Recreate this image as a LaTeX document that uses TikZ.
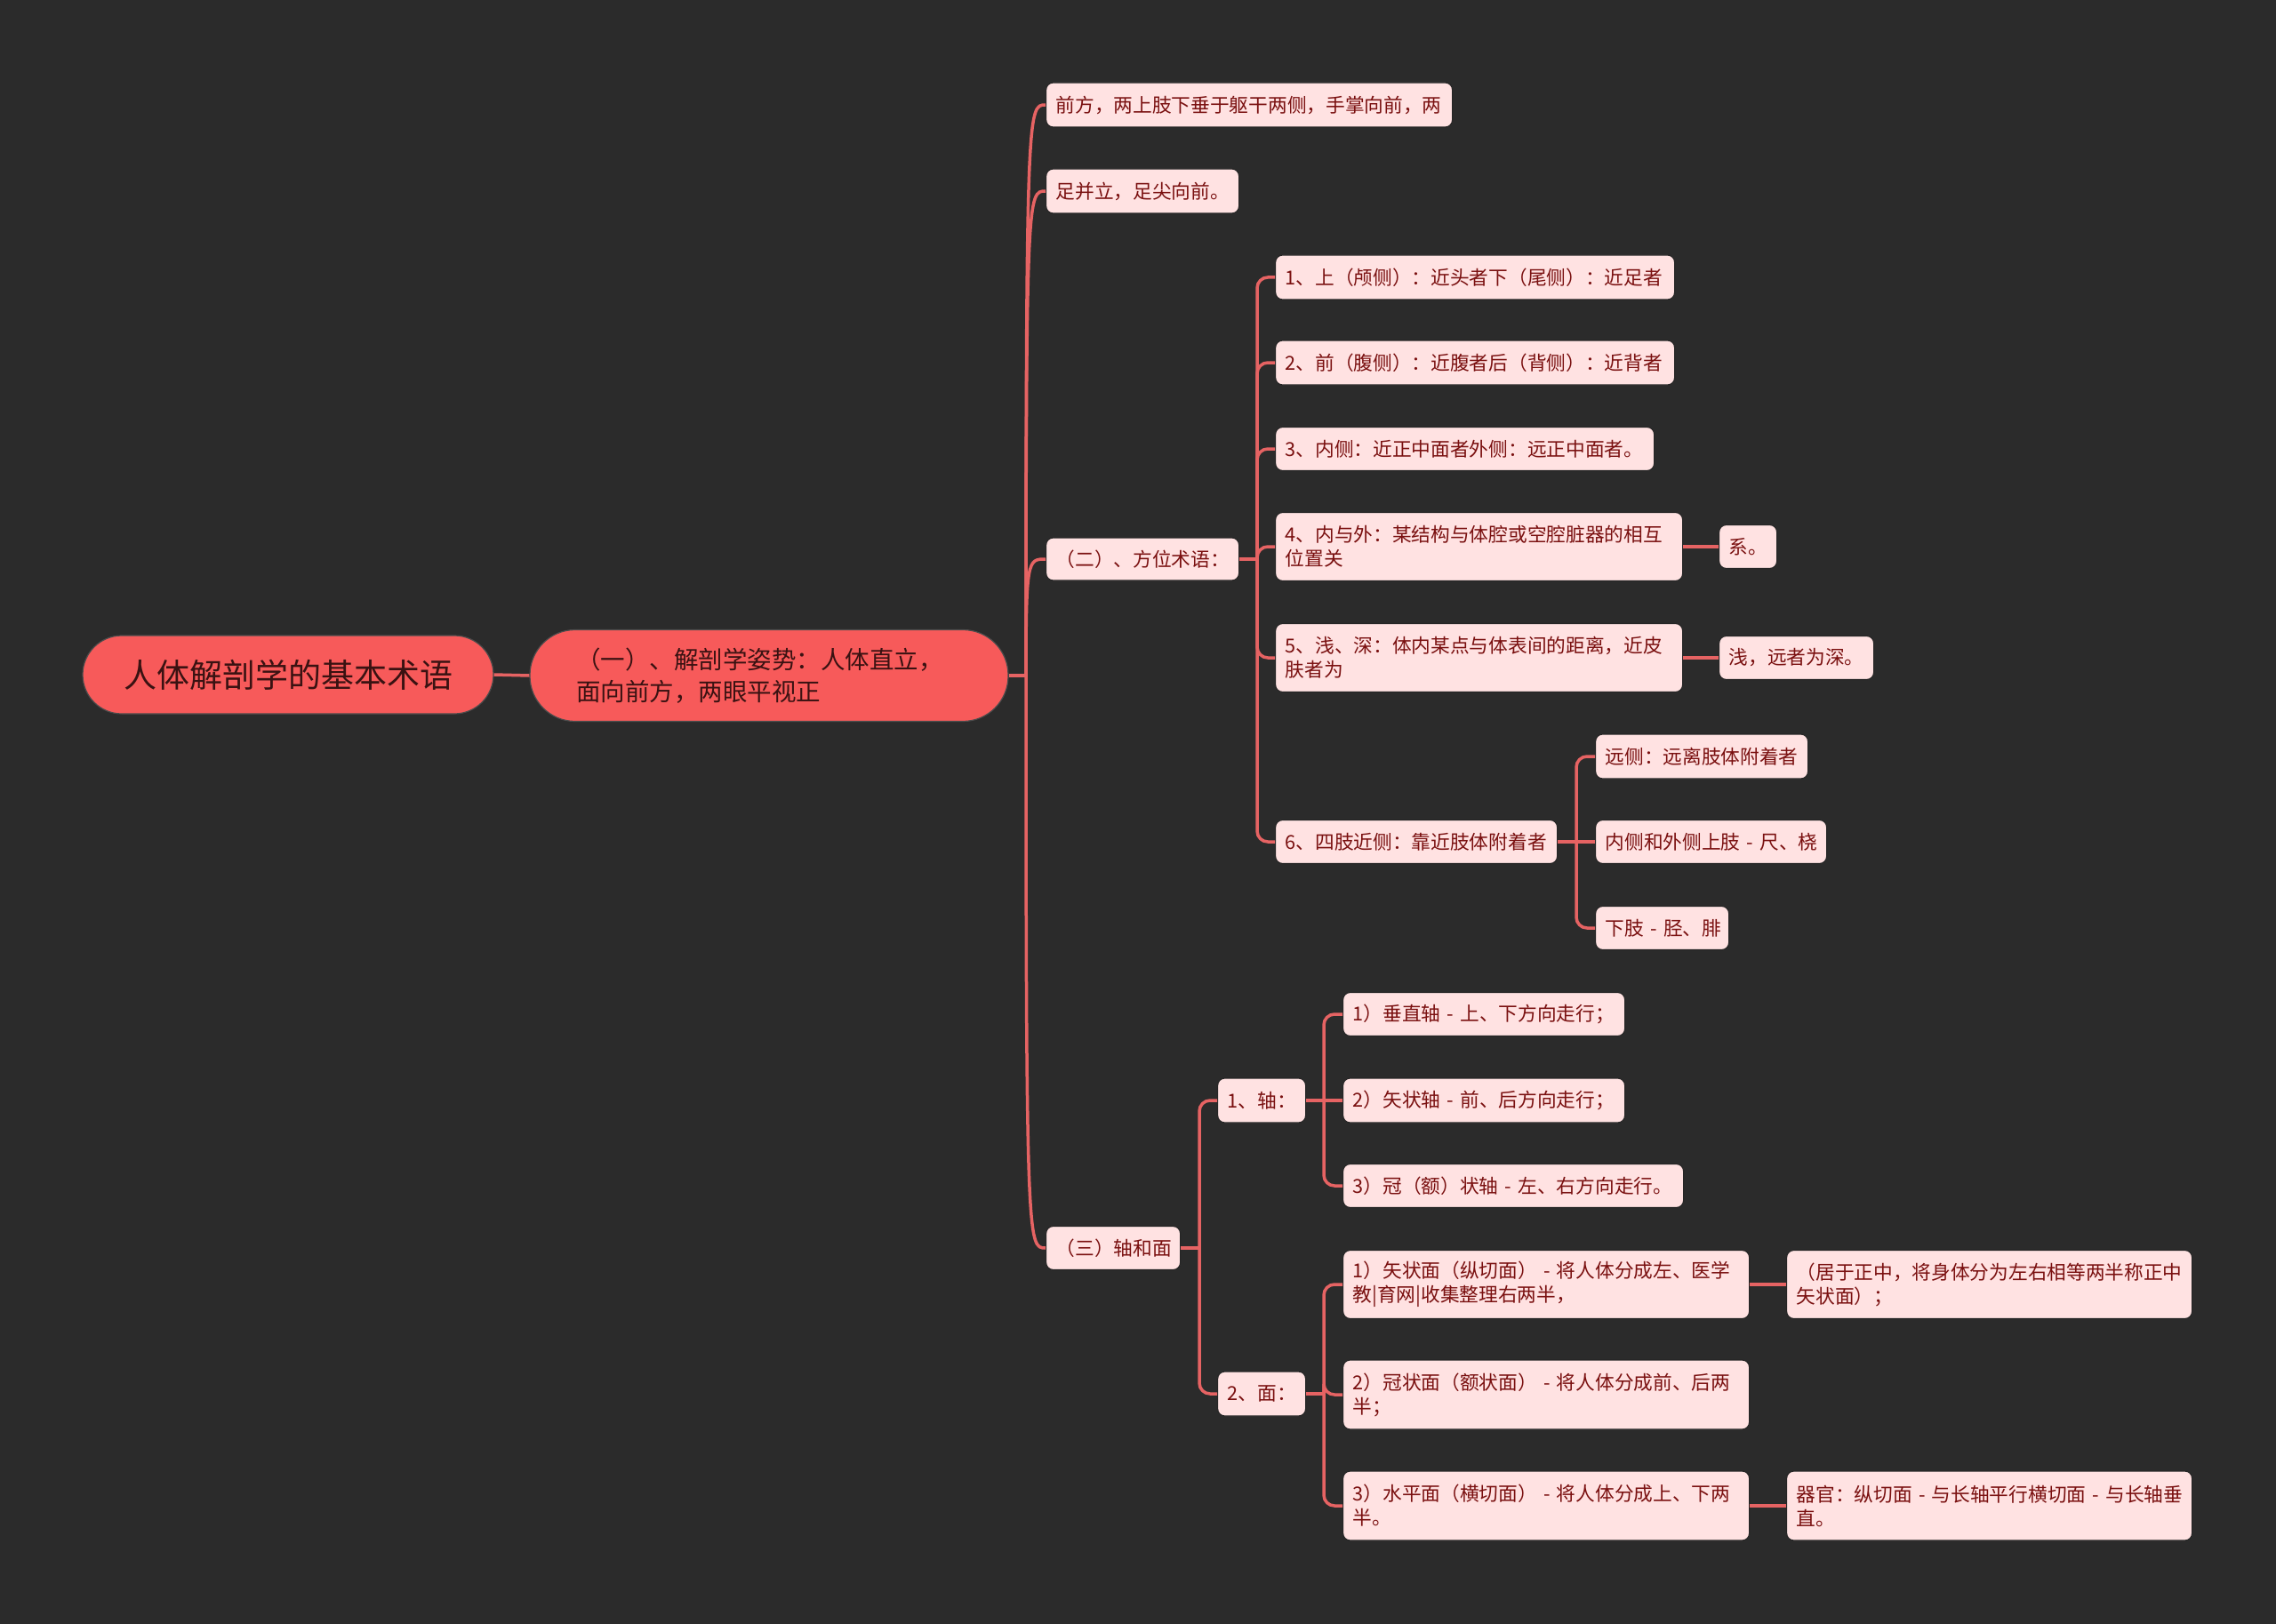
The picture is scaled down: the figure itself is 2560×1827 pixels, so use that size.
\documentclass[tikz,border=0pt]{standalone}
\usepackage{fontspec}
\setmainfont{Noto Sans CJK SC}
\definecolor{bgc}{HTML}{2B2B2B}
\definecolor{linec}{HTML}{E66363}
\definecolor{pillc}{HTML}{F75A5A}
\definecolor{leafc}{HTML}{FFE2E2}
\definecolor{leaftext}{HTML}{7A1010}
\definecolor{pilltext}{HTML}{3A1212}
\begin{document}
\begin{tikzpicture}[x=1pt,y=-1pt,
  leafbox/.style={draw=black!85, line width=1.2pt, fill=leafc, text=leaftext,
    rounded corners=8pt, anchor=west, inner xsep=11pt, inner ysep=0pt,
    align=left, font=\fontsize{21.7pt}{27pt}\selectfont, minimum height=50pt},
  pillbox/.style={draw=black!70, line width=1.2pt, fill=pillc, text=pilltext, inner sep=0pt},
  conn/.style={draw=linec, line width=3.5pt, rounded corners=12pt},
  curv/.style={draw=linec, line width=3.5pt},
]
\fill[bgc] (0,0) rectangle (2560,1827);
\useasboundingbox (0,0) rectangle (2560,1827);

% main nodes
\node[pillbox, minimum width=462pt, minimum height=88pt, rounded corners=44pt,
  font=\fontsize{37pt}{44pt}\selectfont] (root) at (324,759) {人体解剖学的基本术语};
\node[pillbox, minimum height=103pt, rounded corners=51pt, inner xsep=52pt, text width=434pt,
  align=left, font=\fontsize{27.5pt}{36pt}\selectfont] (p1) at (865,760)
  {（一）、解剖学姿势：人体直立，\\面向前方，两眼平视正};

% level 1
\node[leafbox, text width=435pt] (A1) at (1176,118) {\mbox{前方，两上肢下垂于躯干两侧，手掌向前，两}};
\node[leafbox, text width=195pt] (A2) at (1176,215) {\mbox{足并立，足尖向前。}};
\node[leafbox, text width=195pt, minimum height=48pt] (A3) at (1176,629) {\mbox{（二）、方位术语：}};
\node[leafbox, text width=129pt, minimum height=49pt] (A4) at (1176,1404) {\mbox{（三）轴和面}};

% 方位术语 children
\node[leafbox, text width=427pt] (B1) at (1434,312) {\mbox{1、上（颅侧）：近头者下（尾侧）：近足者}};
\node[leafbox, text width=427pt] (B2) at (1434,408) {\mbox{2、前（腹侧）：近腹者后（背侧）：近背者}};
\node[leafbox, text width=404pt, minimum height=49pt] (B3) at (1434,505) {\mbox{3、内侧：近正中面者外侧：远正中面者。}};
\node[leafbox, text width=436pt, minimum height=77pt] (B4) at (1434,615) {\mbox{4、内与外：某结构与体腔或空腔脏器的相互}\\\mbox{位置关}};
\node[leafbox, text width=43pt, minimum height=49pt] (B4c) at (1933,615) {\mbox{系。}};
\node[leafbox, text width=436pt, minimum height=77pt] (B5) at (1434,740) {\mbox{5、浅、深：体内某点与体表间的距离，近皮}\\\mbox{肤者为}};
\node[leafbox, text width=152pt, minimum height=49pt] (B5c) at (1933,740) {\mbox{浅，远者为深。}};
\node[leafbox, text width=295pt, minimum height=49pt] (B6) at (1434,947) {\mbox{6、四肢近侧：靠近肢体附着者}};
\node[leafbox, text width=217pt] (B6a) at (1794,851) {\mbox{远侧：远离肢体附着者}};
\node[leafbox, text width=238pt, minimum height=49pt] (B6b) at (1794,947) {\mbox{内侧和外侧上肢 - 尺、桡}};
\node[leafbox, text width=128pt, minimum height=49pt] (B6c) at (1794,1044) {\mbox{下肢 - 胫、腓}};

% 轴和面 children
\node[leafbox, text width=77pt] (C1) at (1369,1238) {\mbox{1、轴：}};
\node[leafbox, text width=77pt] (C2) at (1369,1568) {\mbox{2、面：}};
\node[leafbox, text width=295pt, minimum height=49pt] (C1a) at (1510,1141) {\mbox{1）垂直轴 - 上、下方向走行；}};
\node[leafbox, text width=295pt] (C1b) at (1510,1238) {\mbox{2）矢状轴 - 前、后方向走行；}};
\node[leafbox, text width=361pt, minimum height=49pt] (C1c) at (1510,1334) {\mbox{3）冠（额）状轴 - 左、右方向走行。}};
\node[leafbox, text width=435pt, minimum height=77pt] (C2a) at (1510,1445) {\mbox{1）矢状面（纵切面） - 将人体分成左、医学}\\\mbox{教|育网|收集整理右两半，}};
\node[leafbox, text width=434pt, minimum height=77pt] (C2ax) at (2009,1445) {\mbox{（居于正中，将身体分为左右相等两半称正中}\\\mbox{矢状面）；}};
\node[leafbox, text width=435pt, minimum height=78pt] (C2b) at (1510,1569) {\mbox{2）冠状面（额状面） - 将人体分成前、后两}\\\mbox{半；}};
\node[leafbox, text width=435pt, minimum height=78pt] (C2c) at (1510,1694) {\mbox{3）水平面（横切面） - 将人体分成上、下两}\\\mbox{半。}};
\node[leafbox, text width=434pt, minimum height=78pt] (C2cx) at (2009,1694) {\mbox{器官：纵切面 - 与长轴平行横切面 - 与长轴垂}\\\mbox{直。}};

% connectors
\draw[curv] (root.east) -- (p1.west);
\coordinate (t0) at (1154,760);
\draw[curv] (p1.east) -- (t0);
\foreach \n in {A1,A2,A3,A4}{
  \draw[curv] (t0) .. controls (t0 |- \n.west) and ([xshift=-20pt]\n.west) .. (\n.west);
}
\coordinate (tb) at (1414,629);
\draw[conn] (A3.east) -- (tb);
\foreach \n in {B1,B2,B3,B4,B5,B6}{ \draw[conn] (tb) |- (\n.west); }
\draw[conn] (B4.east) -- (B4c.west);
\draw[conn] (B5.east) -- (B5c.west);
\coordinate (tb6) at (1773,947);
\draw[conn] (B6.east) -- (B6b.west);
\draw[conn] (tb6) |- (B6a.west);
\draw[conn] (tb6) |- (B6c.west);
\coordinate (tc) at (1349,1404);
\draw[conn] (A4.east) -- (tc);
\draw[conn] (tc) |- (C1.west);
\draw[conn] (tc) |- (C2.west);
\coordinate (tc1) at (1489,1238);
\draw[conn] (C1.east) -- (C1b.west);
\draw[conn] (tc1) |- (C1a.west);
\draw[conn] (tc1) |- (C1c.west);
\coordinate (tc2) at (1489,1568);
\draw[conn] (C2.east) -- (tc2);
\draw[conn] (tc2) |- (C2a.west);
\draw[conn] (tc2) |- (C2b.west);
\draw[conn] (tc2) |- (C2c.west);
\draw[conn] (C2a.east) -- (C2ax.west);
\draw[conn] (C2c.east) -- (C2cx.west);
\end{tikzpicture}
\end{document}
